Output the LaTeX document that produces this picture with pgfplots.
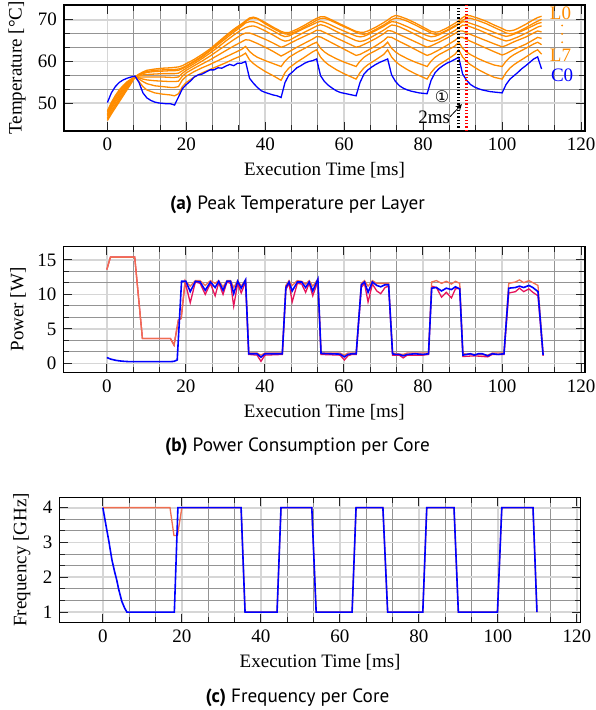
\documentclass[border=0pt]{standalone}
\usepackage{fontspec}
\setmainfont{Liberation Serif}
\usepackage{pgfplots}
\usepackage{pgfplotstable}
\pgfplotsset{compat=1.18}
\newfontfamily\capfont{PT Sans}
\newfontfamily\symfont{DejaVu Sans}
\definecolor{myorange}{RGB}{255,140,0}
\definecolor{myblue}{RGB}{0,0,255}
\definecolor{coral}{RGB}{240,110,80}
\definecolor{crim}{RGB}{230,20,90}

\pgfplotstableread{
t L0 L1 L2 L3 L4 L5 L6 L7
0 45.9 46.2 46.5 46.9 47.2 47.5 47.9 48.2
1 47.46 47.87 48.26 48.73 49.11 49.48 49.92 50.23
2 48.92 49.33 49.73 50.24 50.66 51.06 51.51 51.85
3 50.37 50.8 51.2 51.65 52.02 52.43 52.86 53.22
4 51.83 52.21 52.58 52.96 53.3 53.62 53.95 54.28
5 53.28 53.57 53.85 54.14 54.39 54.63 54.91 55.17
6 54.74 54.94 55.12 55.27 55.39 55.55 55.67 55.81
7 56.3 56.3 56.3 56.3 56.3 56.3 56.3 56.3
8 57.0 56.9 56.8 56.6 56.3 56.1 55.8 55.2
9 57.5 57.3 57.1 56.8 56.3 55.8 55.2 54.0
10 57.9 57.6 57.4 56.9 56.3 55.6 54.7 53.2
12 58.2 57.9 57.6 57.0 56.3 55.4 54.2 52.5
14 58.4 58.0 57.7 57.1 56.3 55.3 54.0 52.2
16 58.5 58.1 57.8 57.1 56.2 55.2 53.8 52.0
17 58.6 58.1 57.8 57.1 56.2 55.2 53.8 51.8
18 58.7 58.2 57.9 57.2 56.3 55.3 54.0 52.3
19 59.0 58.5 58.3 57.8 57.2 56.5 55.6 54.0
20 59.5 59.0 58.8 58.4 57.9 57.3 56.5 55.0
22 60.5 60.1 59.9 59.5 59.0 58.4 57.6 56.3
24 61.7 61.3 61.1 60.7 60.1 59.4 58.5 57.3
26 63.0 62.7 62.5 62.0 61.3 60.4 59.3 58.1
28 64.6 64.3 64.0 63.4 62.6 61.5 60.2 58.9
30 66.2 65.9 65.5 64.9 63.9 62.6 61.1 59.7
32 67.7 67.4 67.0 66.3 65.2 63.7 62.0 60.6
34 69.0 68.7 68.4 67.6 66.4 64.7 62.9 61.4
35 69.7 69.5 69.2 68.1 66.8 65.2 63.6 62.0
36 70.4 70.13 69.5 68.4 66.8 65.1 62.4 60.4
37 70.6 70.4 69.5 68.5 66.5 64.7 61.6 59.5
38 70.3 70.2 69.2 68.2 66.1 64.3 61.0 58.8
40 69.3 69.0 68.3 67.3 65.3 63.4 60.2 57.6
42 68.2 67.9 67.32 66.3 64.4 62.4 59.5 56.6
44 67.2 66.9 66.26 65.2 63.4 61.3 58.8 55.5
45 66.9 66.6 65.95 64.86 63.73 61.79 60.08 57.34
46 66.9 66.5 66.1 65.03 64.21 62.33 61.0 58.46
48 67.7 67.28 67.05 66.05 65.18 63.41 62.16 59.86
50 68.7 68.26 67.97 67.04 66.06 64.39 63.15 61.05
52 69.8 69.31 68.84 67.98 66.94 65.37 64.19 62.31
53 70.3 69.82 69.3 68.47 67.47 65.95 64.6 62.8
54 70.7 70.28 69.6 68.8 67.38 65.86 63.15 61.05
55 70.7 70.32 69.37 68.55 66.94 65.37 62.28 60.0
56 70.3 70.01 68.99 68.14 66.5 64.88 61.64 59.23
58 69.4 69.15 68.08 67.16 65.62 63.9 60.66 58.04
60 68.5 68.26 67.24 66.26 64.74 62.92 59.84 57.06
62 67.6 67.44 66.45 65.4 63.86 61.94 59.15 56.22
63 67.2 66.97 66.07 64.99 63.42 61.45 58.8 55.8
64 67.0 66.62 65.88 64.78 63.64 61.69 60.08 57.34
65 67.0 66.5 66.03 64.95 64.08 62.18 61.0 58.46
66 67.3 66.73 66.41 65.36 64.52 62.67 61.64 59.23
68 68.2 67.67 67.4 66.42 65.49 63.75 62.63 60.42
70 69.3 68.72 68.38 67.49 66.63 65.02 63.67 61.68
71 69.9 69.31 68.99 68.14 67.38 65.86 64.6 62.8
72 70.6 70.01 69.52 68.72 67.29 65.76 63.15 61.05
73 71.0 70.36 69.41 68.6 66.85 65.27 62.28 60.0
74 70.8 70.28 69.11 68.27 66.41 64.78 61.64 59.23
76 70.1 69.62 68.31 67.41 65.58 63.85 60.66 58.04
78 69.2 68.72 67.43 66.46 64.7 62.87 59.84 57.06
80 68.2 67.75 66.56 65.52 63.82 61.89 59.15 56.22
81 67.7 67.28 66.18 65.11 63.42 61.45 58.8 55.8
82 67.2 66.77 65.91 64.82 63.73 61.79 60.08 57.34
83 67.0 66.5 66.03 64.95 64.17 62.28 61.0 58.46
84 67.1 66.58 66.37 65.32 64.61 62.77 61.64 59.23
86 68.0 67.48 67.32 66.34 65.58 63.85 62.63 60.42
88 69.1 68.53 68.31 67.41 66.63 65.02 63.67 61.68
89 69.7 69.11 68.92 68.06 67.29 65.76 64.6 62.8
90 70.5 69.85 69.49 68.68 67.29 65.76 63.15 61.05
91 71.0 70.32 69.41 68.6 66.85 65.27 62.28 60.0
92 70.9 70.32 69.11 68.27 66.46 64.83 61.64 59.23
94 70.3 69.74 68.46 67.57 65.71 63.99 60.66 58.04
96 69.6 69.04 67.7 66.75 64.96 63.16 59.84 57.06
98 68.7 68.14 66.94 65.93 64.21 62.33 59.15 56.22
100 67.9 67.28 66.26 65.19 63.51 61.54 58.8 55.8
101 67.4 66.81 65.99 64.9 63.82 61.89 60.08 57.34
102 67.3 66.62 66.18 65.11 64.26 62.38 61.0 58.46
103 67.5 66.73 66.52 65.48 64.7 62.87 61.64 59.23
104 67.9 67.09 66.86 65.85 65.09 63.31 62.16 59.86
106 68.9 68.06 67.7 66.75 65.84 64.14 63.15 61.05
108 70.0 69.15 68.61 67.73 66.81 65.22 64.19 62.31
109 70.5 69.62 69.07 68.23 67.29 65.76 64.6 62.8
110 70.8 70.09 69.33 68.51 67.07 65.51 64.02 61.75
}\layers

\pgfplotstableread{
t C0
0 50.2
1 52.5
2 54.0
3 55.0
4 55.6
5 56.0
6 56.3
7 56.5
8 55.0
9 52.5
10 51.3
11 50.7
12 50.3
13 50.1
14 50.0
15 49.9
16 49.9
17 49.6
18 51.5
19 53.5
20 54.5
21 55.3
22 56.3
23 56.8
24 57.0
25 57.5
26 58.0
27 58.0
28 58.5
29 58.4
30 58.9
31 59.3
32 59.0
33 59.6
34 59.6
35 60.0
36 56.0
37 54.8
38 53.8
39 53.0
40 52.6
41 52.3
42 52.0
43 51.8
44 51.4
45 55.0
46 56.8
47 57.6
48 58.5
49 59.0
50 59.6
51 60.0
52 60.2
53 60.6
54 56.6
55 55.2
56 54.3
57 53.6
58 53.0
59 52.6
60 52.4
61 52.2
62 52.0
63 51.8
64 55.0
65 57.0
66 58.0
67 58.7
68 59.3
69 59.8
70 60.2
71 60.6
72 56.8
73 55.2
74 54.2
75 53.6
76 53.2
77 52.9
78 52.7
79 52.5
80 52.4
81 52.3
82 55.5
83 57.3
84 58.3
85 59.0
86 59.6
87 60.0
88 60.5
89 61.0
90 57.0
91 55.5
92 54.5
93 53.9
94 53.5
95 53.2
96 53.0
97 52.8
98 52.7
99 52.6
100 52.5
101 54.5
102 55.8
103 56.6
104 57.4
105 58.3
106 59.0
107 59.8
108 60.6
109 61.1
110 58.2
}\core

\pgfplotsset{
  base/.style={
    scale only axis, anchor=south west,
    xmin=-11, xmax=121,
    xtick={0,20,...,120},
    minor x tick num=2, minor y tick num=2,
    grid=both,
    major grid style={line width=0.9pt, black!16},
    minor grid style={line width=0.45pt, black!42},
    tick style={black!85, line width=0.5pt},
    axis line style={line width=0.6pt},
    /pgf/number format/assume math mode=true,
    tick label style={font=\fontsize{9.5}{10}\selectfont},
    label style={font=\fontsize{9.5}{10}\selectfont},
    xlabel={Execution Time [ms]},
    xlabel style={at={(axis description cs:0.5,-0.315)}, anchor=center},
    every axis plot/.append style={line width=0.65pt},
  }
}

\begin{document}
\begin{tikzpicture}
\path[use as bounding box] (0,0) rectangle (297.5pt,355pt);

% (a) temperature
\begin{axis}[base, at={(32pt,289.5pt)}, width=260.5pt, height=63pt,
  ymin=43.4, ymax=73.5, ytick={50,60,70},
  ylabel={Temperature [\textdegree C]},
  ylabel style={at={(axis description cs:-0.09,0.5)}, anchor=center},
  clip=false]
\addplot[myorange, no marks] table[x=t,y=L7] {\layers};
\addplot[myorange, no marks] table[x=t,y=L6] {\layers};
\addplot[myorange, no marks] table[x=t,y=L5] {\layers};
\addplot[myorange, no marks] table[x=t,y=L4] {\layers};
\addplot[myorange, no marks] table[x=t,y=L3] {\layers};
\addplot[myorange, no marks] table[x=t,y=L2] {\layers};
\addplot[myorange, no marks] table[x=t,y=L1] {\layers};
\addplot[myorange, no marks] table[x=t,y=L0] {\layers};
\addplot[myblue, no marks] table[x=t,y=C0] {\core};
\addplot[black, densely dotted, line width=1.3pt, no marks] coordinates {(89,43.4) (89,73.5)};
\addplot[red, densely dotted, line width=1.3pt, no marks] coordinates {(91,43.4) (91,73.5)};
\draw[->, >=stealth, line width=0.4pt] (axis cs:86.8,46.8) -- (axis cs:89.8,49.8);
\node[font=\fontsize{9.5}{10}\selectfont, anchor=east, inner sep=0pt] at (axis cs:86.9,46.6) {2ms};
\node[font=\symfont\fontsize{8}{9}\selectfont, inner sep=0pt] at (axis cs:84.8,51.6) {①};
\node[font=\fontsize{9.5}{10}\selectfont, text=myorange, inner sep=0pt] at (axis cs:114.8,71.4) {L0};
\fill[myorange] (axis cs:115.2,68.6) circle (0.55pt);
\fill[myorange] (axis cs:115.2,66.6) circle (0.55pt);
\fill[myorange] (axis cs:115.2,64.6) circle (0.55pt);
\node[font=\fontsize{9.5}{10}\selectfont, text=myorange, inner sep=0pt] at (axis cs:114.8,61.6) {L7};
\node[font=\fontsize{9.5}{10}\selectfont, text=myblue, inner sep=0pt] at (axis cs:115.2,56.8) {C0};
\end{axis}
\node[font=\capfont\fontsize{9.6}{11}\selectfont] at (148.75pt,252.5pt) {\textbf{(a)} Peak Temperature per Layer};

% (b) power
\begin{axis}[base, at={(31.7pt,168.8pt)}, width=260.8pt, height=62.8pt,
  ymin=-1.3, ymax=16.9, ytick={0,5,10,15},
  ylabel={Power [W]},
  ylabel style={at={(axis description cs:-0.087,0.5)}, anchor=center}]
\addplot[crim, no marks] coordinates {(0,13.6)(0.9,15.4)(7.05,15.4)(9,3.6)(16.1,3.6)(17,2.65)(18.1,6.3)(18.8,6.5)(19.8,11.8)(21.1,8.8)(22.4,11.8)(23.6,11.6)(24.9,10.0)(26.2,11.6)(27.4,9.8)(28.3,11.7)(29.4,10.0)(30.4,11.8)(31.3,11.6)(32.1,8.3)(33.1,11.6)(34,10.2)(35.1,11.8)(35.9,1.3)(38,1.2)(39,0.3)(40,1.2)(44.4,1.3)(45.3,10.7)(46.1,11.6)(46.9,8.9)(48.2,11.6)(49.3,11.5)(50.3,10.3)(51.2,11.6)(52.1,9.8)(53.4,11.9)(54.2,1.3)(59,1.2)(60.1,0.5)(61,1.1)(62,1.3)(63.1,1.3)(64.4,11.0)(65.2,11.6)(66.1,8.9)(67.2,11.5)(68.3,10.5)(69.3,10.1)(70.4,11.0)(71.3,11.2)(72.3,1.2)(74,1.2)(75,0.8)(76,1.2)(80,1.2)(81.4,1.3)(82.2,11.2)(83.4,11.0)(84.7,9.6)(85.9,10.3)(87.2,9.5)(88.2,10.8)(89.3,10.9)(90.1,1.0)(93,1.1)(96.4,0.95)(97.5,1.3)(100.5,1.3)(101.7,10.2)(103.4,10.4)(104.4,10.9)(105.5,10.4)(106.8,10.8)(107.8,10.3)(109.1,9.8)(110.4,1.1)};
\addplot[coral, no marks] coordinates {(0,13.6)(0.9,15.4)(7.05,15.4)(9,3.6)(16.1,3.6)(17,2.65)(18.1,6.3)(18.8,6.5)(19.8,12.0)(21.1,11.2)(22.4,12.0)(23.6,12.0)(24.9,11.3)(26.2,12.0)(27.4,11.6)(28.3,12.0)(29.4,11.1)(30.4,12.0)(31.3,12.0)(32.1,11.0)(33.1,12.0)(34,11.2)(35.1,12.1)(35.9,1.5)(38,1.5)(39,1.2)(40,1.5)(44.4,1.5)(45.3,11.3)(46.1,12.0)(46.9,11.3)(48.2,12.0)(49.3,11.9)(50.3,11.5)(51.2,12.0)(52.1,11.2)(53.4,12.2)(54.2,1.5)(59,1.5)(60.1,1.2)(61,1.5)(63.1,1.5)(64.4,11.6)(65.2,12.0)(66.1,11.2)(67.2,12.0)(68.3,11.6)(69.3,11.6)(70.4,11.6)(71.3,11.6)(72.3,1.5)(75,1.3)(76,1.5)(81.4,1.5)(82.2,11.8)(83.4,12.0)(84.7,11.6)(85.9,11.9)(87.2,11.5)(88.2,11.9)(89.3,11.6)(90.1,1.4)(96.4,1.2)(97.5,1.5)(100.5,1.5)(101.7,11.6)(103.4,11.8)(104.4,12.1)(105.5,11.7)(106.8,12.0)(107.8,11.7)(109.1,11.3)(110.4,1.3)};
\addplot[myblue, no marks, line width=0.8pt] coordinates {(0,0.85)(1,0.62)(2,0.48)(3,0.38)(4,0.32)(5,0.28)(6,0.25)(10,0.25)(16,0.25)(17,0.3)(17.8,0.5)(18.9,11.9)(20,11.9)(21.1,10.4)(22.4,11.9)(23.6,11.8)(24.9,10.6)(26.2,11.8)(27.4,11.0)(28.3,11.9)(29.4,10.6)(30.4,11.9)(31.3,11.9)(32.1,10.1)(33.1,11.9)(34,10.9)(35.1,12.1)(35.9,1.4)(38,1.4)(39,0.9)(40,1.4)(44.4,1.4)(45.3,11.0)(46.1,11.8)(46.9,10.5)(48.2,11.8)(49.3,11.8)(50.3,11.0)(51.2,11.8)(52.1,10.5)(53.4,12.2)(54.2,1.45)(59,1.35)(60.1,0.95)(61,1.3)(62,1.4)(63.1,1.4)(64.4,11.4)(65.2,11.8)(66.1,10.3)(67.2,11.8)(68.3,11.3)(69.3,11.1)(70.4,11.4)(71.3,11.4)(72.3,1.4)(73,1.3)(74,1.3)(75,1.1)(76,1.3)(78,1.4)(80,1.3)(81.4,1.4)(82.2,10.9)(83.4,11.0)(84.7,10.5)(85.9,10.9)(87.2,10.7)(88.2,11.1)(89.3,10.8)(90.1,1.2)(91,1.3)(92,1.4)(93,1.2)(94,1.4)(95,1.4)(96.4,1.1)(97.5,1.4)(99,1.3)(100.5,1.4)(101.7,10.9)(103.4,11.0)(104.4,11.2)(105.5,11.0)(106.8,11.3)(107.8,11.0)(109.1,10.4)(110.4,1.2)};
\end{axis}
\node[font=\capfont\fontsize{9.6}{11}\selectfont] at (148.75pt,131.5pt) {\textbf{(b)} Power Consumption per Core};

% (c) frequency
\begin{axis}[base, at={(29.7pt,43.7pt)}, width=260.7pt, height=62.7pt,
  ymin=0.7, ymax=4.3, ytick={1,2,3,4},
  ylabel={Frequency [GHz]},
  ylabel style={at={(axis description cs:-0.072,0.5)}, anchor=center}]
\addplot[coral, no marks] coordinates {(0,4)(17,4)(18,3.2)(18.9,3.2)(20,4)(35.0,4.0)(36.0,1.0)(44.1,1.0)(45.1,4.0)(52.9,4.0)(54.0,1.0)(63.1,1.0)(64.1,4.0)(70.9,4.0)(72.1,1.0)(81.0,1.0)(82.0,4.0)(88.9,4.0)(90.0,1.0)(99.9,1.0)(101.0,4.0)(108.9,4.0)(109.9,1.0)};
\addplot[myblue, no marks, line width=0.8pt] coordinates {(0,4)(0.5,3.68)(1,3.36)(1.5,3.05)(2.3,2.5)(3,2.15)(3.5,1.93)(4,1.66)(4.8,1.31)(5.5,1.12)(6.1,1.0)(18.1,1.0)(19.0,4.0)(35.0,4.0)(36.0,1.0)(44.1,1.0)(45.1,4.0)(52.9,4.0)(54.0,1.0)(63.1,1.0)(64.1,4.0)(70.9,4.0)(72.1,1.0)(81.0,1.0)(82.0,4.0)(88.9,4.0)(90.0,1.0)(99.9,1.0)(101.0,4.0)(108.9,4.0)(109.9,1.0)};
\end{axis}
\node[font=\capfont\fontsize{9.6}{11}\selectfont] at (148.75pt,6pt) {\textbf{(c)} Frequency per Core};
\end{tikzpicture}
\end{document}
